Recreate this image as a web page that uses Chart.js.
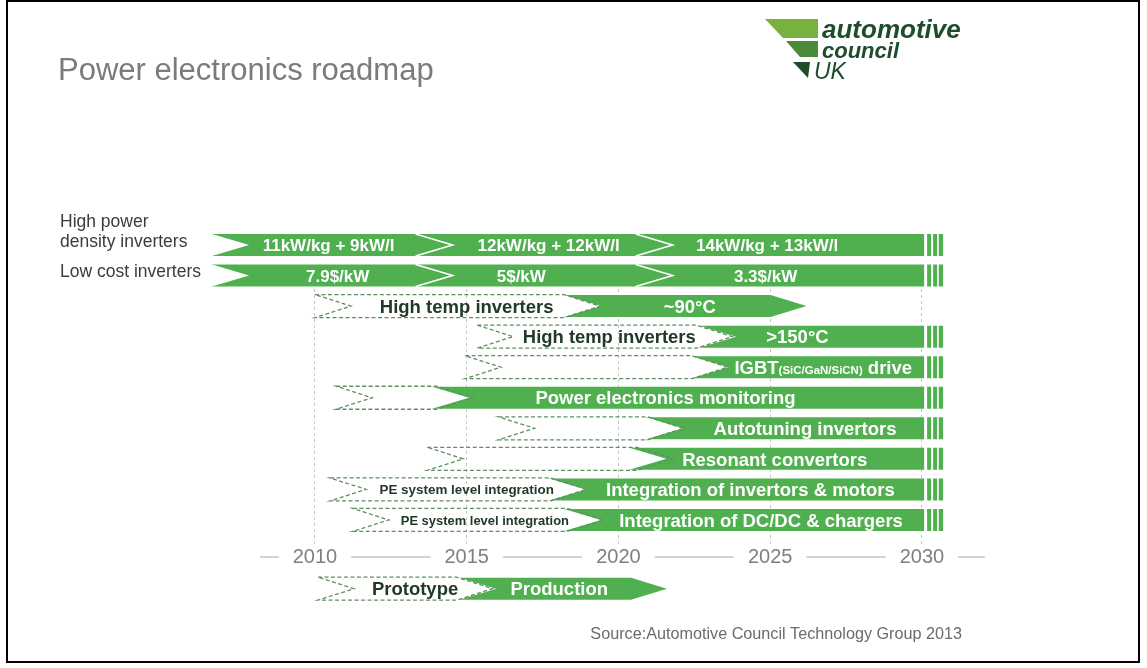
<!DOCTYPE html>
<html>
<head>
<meta charset="utf-8">
<script src="https://cdn.jsdelivr.net/npm/chart.js@4.4.1/dist/chart.umd.min.js"></script>
<style>
  html, body { margin: 0; padding: 0; background: #fff; }
  #wrap { width: 1147px; height: 668px; position: relative; }
</style>
</head>
<body>
<div id="wrap"><canvas id="roadmap"></canvas></div>
<script>
// timeline ticks
const years = [2010, 2015, 2020, 2025, 2030];

// names shown left of the first two rows
const sideLabels = [['High power', 'density inverters'], ['Low cost inverters']];

// key row (Prototype / Production) sits under the axis
const keyRow = 11.25;

// dashed (prototype) phases
const planRow    = [2, 3, 4, 5, 6, 7, 8, 9, keyRow];
const planFrom   = [2010.0, 2015.35, 2014.95, 2010.7, 2016.05, 2013.7, 2010.5, 2011.25, 2010.1];
const planTo     = [2019.4, 2023.75, 2023.6, 2015.2, 2022.15, 2021.8, 2018.95, 2019.5, 2015.85];
const planText   = ['High temp inverters', 'High temp inverters', '', '', '', '',
                    'PE system level integration', 'PE system level integration', 'Prototype'];
const planTextAt = [2015.0, 2019.7, 0, 0, 0, 0, 2015.0, 2015.6, 2013.3];

// solid (production) phases
const prodRow    = [0, 0, 0, 1, 1, 1, 2, 3, 4, 5, 6, 7, 8, 9, keyRow];
const prodFrom   = [2006.55, 2013.35, 2020.6, 2006.55, 2013.35, 2020.6, 2018.15, 2022.6, 2022.35,
                    2013.8, 2020.85, 2020.3, 2017.65, 2018.15, 2014.7];
const prodTo     = [2014.5, 2021.8, 2030.7, 2014.5, 2021.8, 2030.7, 2026.2, 2030.7, 2030.7,
                    2030.7, 2030.7, 2030.7, 2030.7, 2030.7, 2021.6];
const prodText   = ['11kW/kg + 9kW/l', '12kW/kg + 12kW/l', '14kW/kg + 13kW/l',
                    '7.9$/kW', '5$/kW', '3.3$/kW',
                    '~90°C', '>150°C', 'IGBT(SiC/GaN/SiCN) drive',
                    'Power electronics monitoring', 'Autotuning invertors', 'Resonant convertors',
                    'Integration of invertors & motors', 'Integration of DC/DC & chargers', 'Production'];
const prodTextAt = [2010.45, 2017.7, 2024.9, 2010.75, 2016.8, 2024.85, 2022.35, 2025.9, 2026.75,
                    2021.55, 2026.15, 2025.15, 2024.35, 2024.7, 2018.05];

const SANS = '"Liberation Sans", Arial, sans-serif';
const GREEN = '#50b04f';
const DARK = '#203a27';
const D = 36; // chevron depth px

function chevron(ctx, x0, x1, yc, h, tip) {
  const t = yc - h / 2, b = yc + h / 2;
  ctx.beginPath();
  ctx.moveTo(x0, t);
  ctx.lineTo(tip ? x1 - D : x1, t);
  if (tip) ctx.lineTo(x1, yc);
  ctx.lineTo(tip ? x1 - D : x1, b);
  ctx.lineTo(x0, b);
  ctx.lineTo(x0 + D, yc);
  ctx.closePath();
}

function barText(ctx, text, cx, cy, size, color) {
  ctx.fillStyle = color;
  ctx.textBaseline = 'alphabetic';
  const base = cy + size * 0.36;
  const m = text.match(/^([^()]*)(\([^)]*\))(.*)$/);
  if (!m) {
    ctx.font = 'bold ' + size + 'px ' + SANS;
    ctx.textAlign = 'center';
    ctx.fillText(text, cx, base);
    return;
  }
  const parts = [[m[1], size], [m[2], size * 0.62], [m[3], size]];
  let w = 0;
  parts.forEach(p => { ctx.font = 'bold ' + p[1] + 'px ' + SANS; p.push(ctx.measureText(p[0]).width); w += p[2]; });
  let x = cx - w / 2;
  ctx.textAlign = 'left';
  parts.forEach(p => { ctx.font = 'bold ' + p[1] + 'px ' + SANS; ctx.fillText(p[0], x, base); x += p[2]; });
}

const roadmapPlugin = {
  id: 'roadmap',
  afterDatasetsDraw(chart) {
    const ctx = chart.ctx;
    const xs = chart.scales.x;
    const horizon = years[years.length - 1];
    const plan = chart.getDatasetMeta(0).data;
    const prod = chart.getDatasetMeta(1).data;
    ctx.save();

    // axis line broken around the year labels
    const axisY = xs.top + 12;
    ctx.font = '20px ' + SANS;
    const gaps = years.map((v, i) => {
      const px = xs.getPixelForTick(i);
      const w = ctx.measureText(String(v)).width / 2 + 14;
      return [px - w, px + w];
    });
    ctx.strokeStyle = '#c6c6c6';
    ctx.lineWidth = 1.5;
    ctx.beginPath();
    let from = xs.left;
    gaps.forEach(g => { ctx.moveTo(from, axisY); ctx.lineTo(g[0], axisY); from = g[1]; });
    ctx.moveTo(from, axisY); ctx.lineTo(xs.right, axisY);
    ctx.stroke();

    // solid phases
    prod.forEach((el, i) => {
      const p = el.getProps(['x', 'base', 'y', 'height'], true);
      const open = prodTo[i] > horizon;
      ctx.fillStyle = GREEN;
      chevron(ctx, p.base, p.x, p.y, p.height, !open);
      ctx.fill();
      // white separator along the notch
      ctx.strokeStyle = '#fff';
      ctx.lineWidth = 1.6;
      ctx.beginPath();
      ctx.moveTo(p.base - 1, p.y - p.height / 2);
      ctx.lineTo(p.base + D, p.y);
      ctx.lineTo(p.base - 1, p.y + p.height / 2);
      ctx.stroke();
      if (open) {
        ctx.fillStyle = '#fff';
        [[-19, 3], [-12, 2], [-6, 1.6]].forEach(g => ctx.fillRect(p.x + g[0], p.y - p.height / 2 - 1, g[1], p.height + 2));
      }
    });

    // dashed phases
    ctx.strokeStyle = '#5f8f60';
    ctx.lineWidth = 1.3;
    ctx.setLineDash([4, 2.5]);
    plan.forEach(el => {
      const p = el.getProps(['x', 'base', 'y', 'height'], true);
      chevron(ctx, p.base, p.x, p.y, p.height, true);
      ctx.stroke();
    });
    ctx.setLineDash([]);

    // texts
    plan.forEach((el, i) => {
      if (!planText[i]) return;
      const p = el.getProps(['x', 'base', 'y', 'height'], true);
      const room = (p.x - D) - (p.base + D) - 10;
      ctx.font = 'bold 18.5px ' + SANS;
      const w = ctx.measureText(planText[i]).width;
      const size = w > room ? 18.5 * room / w : 18.5;
      barText(ctx, planText[i], xs.getPixelForValue(planTextAt[i]), p.y, size, DARK);
    });
    prod.forEach((el, i) => {
      const p = el.getProps(['x', 'base', 'y', 'height'], true);
      const size = prodRow[i] < 2 ? 17 : 18.5;
      barText(ctx, prodText[i], xs.getPixelForValue(prodTextAt[i]), p.y, size, '#fff');
    });

    // side labels
    const ys = chart.scales.y;
    ctx.fillStyle = '#3c3c3c';
    ctx.font = '17.5px ' + SANS;
    ctx.textAlign = 'left';
    ctx.textBaseline = 'middle';
    sideLabels.forEach((lines, r) => {
      const yc = ys.getPixelForValue(r) - 3;
      lines.slice().reverse().forEach((ln, k) => ctx.fillText(ln, 60, yc - k * 20));
    });
    ctx.restore();
  },
  afterDraw(chart) {
    const ctx = chart.ctx;
    ctx.save();
    // title
    ctx.fillStyle = '#7b7b7b';
    ctx.font = '31px ' + SANS;
    ctx.textAlign = 'left';
    ctx.textBaseline = 'alphabetic';
    ctx.fillText('Power electronics roadmap', 58, 80);

    // logo
    const poly = (pts, c) => { ctx.fillStyle = c; ctx.beginPath(); pts.forEach((q, k) => k ? ctx.lineTo(q[0], q[1]) : ctx.moveTo(q[0], q[1])); ctx.closePath(); ctx.fill(); };
    poly([[765, 19], [818, 19], [818, 38], [783, 38]], '#78b13f');
    poly([[786, 41], [818, 41], [818, 57], [800, 57]], '#4c8a3b');
    poly([[793, 62], [810, 62], [808, 78]], '#1e4d2b');
    ctx.fillStyle = '#1e4d2b';
    ctx.font = 'italic bold 26px ' + SANS;
    ctx.fillText('automotive', 822, 38);
    ctx.font = 'italic bold 22px ' + SANS;
    ctx.fillText('council', 822, 58);
    ctx.font = 'italic 23px ' + SANS;
    ctx.fillText('UK', 814, 79);

    // source
    ctx.fillStyle = '#6b6b6b';
    ctx.font = '16.2px ' + SANS;
    ctx.textAlign = 'right';
    ctx.fillText('Source:Automotive Council Technology Group 2013', 962, 639);

    // frame
    ctx.strokeStyle = '#000';
    ctx.lineWidth = 2;
    ctx.strokeRect(7, 1, 1132, 661);
    ctx.restore();
  }
};

const ctx = document.getElementById('roadmap').getContext('2d');
const roadmap = new Chart(ctx, {
  type: 'bar',
  data: {
    datasets: [{
      label: 'Prototype',
      data: planRow.map((r, i) => ({ x: [planFrom[i], planTo[i]], y: r })),
      backgroundColor: 'rgba(0,0,0,0)',
      borderWidth: 0,
      barThickness: 23,
      grouped: false,
      clip: false
    }, {
      label: 'Production',
      data: prodRow.map((r, i) => ({ x: [prodFrom[i], prodTo[i]], y: r })),
      backgroundColor: 'rgba(0,0,0,0)',
      borderWidth: 0,
      barThickness: 22,
      grouped: false,
      clip: false
    }]
  },
  options: {
    indexAxis: 'y',
    responsive: true,
    maintainAspectRatio: false,
    animation: false,
    events: [],
    layout: { padding: { top: 283, left: 260, right: 162, bottom: 99 } },
    plugins: { legend: { display: false }, tooltip: { enabled: false } },
    scales: {
      x: {
        type: 'linear',
        min: 2008.19,
        max: 2032.08,
        afterBuildTicks: s => { s.ticks = years.map(v => ({ value: v })); },
        grid: { color: '#c6c6c6', lineWidth: 1, drawTicks: false },
        border: { display: false, dash: [3, 3] },
        ticks: {
          padding: 2,
          color: '#7f7f7f',
          font: { family: SANS, size: 20, lineHeight: 1 },
          maxRotation: 0,
          autoSkip: false,
          callback: v => String(v)
        }
      },
      y: { type: 'linear', display: false, offset: false, reverse: true, min: 1.244, max: 9.82 }
    }
  },
  plugins: [roadmapPlugin]
});
</script>
</body>
</html>
